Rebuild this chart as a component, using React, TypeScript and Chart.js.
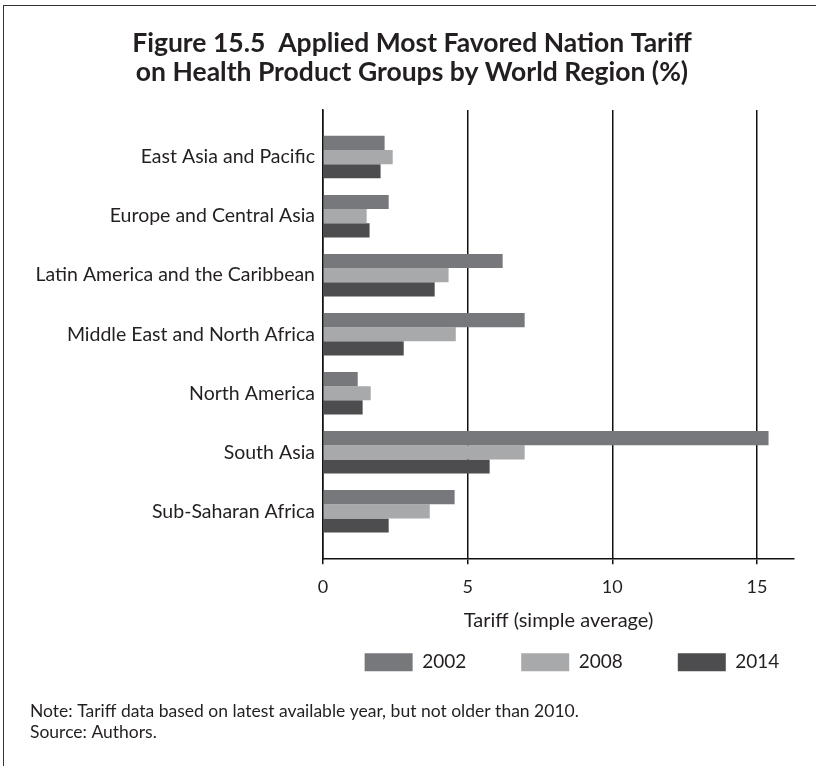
import React, { useEffect, useRef } from 'react';
import { Chart, registerables } from 'chart.js';

Chart.register(...registerables);

// ---- data ----
const regions = [
  'East Asia and Pacific',
  'Europe and Central Asia',
  'Latin America and the Caribbean',
  'Middle East and North Africa',
  'North America',
  'South Asia',
  'Sub-Saharan Africa',
];
const years = ['2002', '2008', '2014'];
const tariff2002 = [2.13, 2.27, 6.21, 6.97, 1.2, 15.4, 4.55];
const tariff2008 = [2.41, 1.51, 4.34, 4.59, 1.65, 6.97, 3.69];
const tariff2014 = [1.99, 1.61, 3.86, 2.79, 1.37, 5.76, 2.27];
const xTickValues = [0, 5, 10, 15];
const titleLines = [
  'Figure 15.5  Applied Most Favored Nation Tariff',
  'on Health Product Groups by World Region (%)',
];
const xAxisTitle = 'Tariff (simple average)';
const noteLines = [
  'Note: Tariff data based on latest available year, but not older than 2010.',
  'Source: Authors.',
];

// ---- styles ----
const seriesColors = ['#77787b', '#a8a9ab', '#4d4d4f'];
const textColor = '#231f20';
const lineColor = '#111111';
const family = 'Lato, "Open Sans", sans-serif';
const legendShiftX = 160;

export default function App() {
  const canvasRef = useRef<HTMLCanvasElement | null>(null);

  useEffect(() => {
    const canvas = canvasRef.current;
    if (!canvas) return;
    const seriesValues = [tariff2002, tariff2008, tariff2014];

    const shiftLegend = {
      id: 'shiftLegend',
      afterLayout(chart: any) {
        const lg = chart.legend;
        if (lg) {
          lg.left += legendShiftX;
          lg.right += legendShiftX;
        }
      },
    };

    const chart = new Chart(canvas, {
      type: 'bar',
      data: {
        datasets: years.map((yr, k) => ({
          label: yr,
          data: seriesValues[k].map((v, i) => ({ x: v, y: i })),
          backgroundColor: seriesColors[k],
          borderWidth: 0,
          categoryPercentage: 0.72,
          barPercentage: 1.0,
        })),
      },
      options: {
        indexAxis: 'y',
        responsive: false,
        animation: false,
        devicePixelRatio: 1,
        layout: { padding: { left: 30, right: 22, top: 0, bottom: 0 } },
        scales: {
          x: {
            type: 'linear',
            min: 0,
            max: 16.28,
            afterBuildTicks: (s: any) => {
              s.ticks = xTickValues.map((v) => ({ value: v }));
            },
            ticks: { font: { family, size: 18 }, color: textColor, padding: 12 },
            grid: { color: lineColor, lineWidth: 1.5, tickLength: 5, drawTicks: true },
            border: { display: true, color: lineColor, width: 1.5 },
            title: {
              display: true,
              text: xAxisTitle,
              font: { family, size: 20 },
              color: textColor,
              padding: { top: -1, bottom: -35 },
            },
          },
          y: {
            type: 'linear',
            reverse: true,
            offset: false,
            min: -0.8,
            max: 6.81,
            afterBuildTicks: (s: any) => {
              s.ticks = regions.map((_, i) => ({ value: i }));
            },
            afterFit: (s: any) => {
              s.width = 293;
            },
            ticks: {
              autoSkip: false,
              callback: (v: any) => regions[v] ?? '',
              font: { family, size: 19.5 },
              color: textColor,
              padding: 8,
            },
            grid: { display: false, drawTicks: false, offset: false },
            border: { display: true, color: lineColor, width: 1.5 },
          },
        },
        plugins: {
          tooltip: { enabled: false },
          title: {
            display: true,
            text: titleLines,
            color: textColor,
            font: { family, size: 26.5, weight: 'bold', lineHeight: 1.13 },
            padding: { top: 28, bottom: 22 },
          },
          subtitle: {
            display: true,
            text: noteLines,
            position: 'bottom',
            align: 'start',
            color: textColor,
            font: { family, size: 17.5, lineHeight: 1.15 },
            padding: { top: 20, bottom: 24 },
          },
          legend: {
            position: 'bottom',
            align: 'center',
            labels: {
              boxWidth: 48,
              boxHeight: 18,
              padding: 55,
              color: textColor,
              font: { family, size: 19 },
            },
          },
        },
      },
      plugins: [shiftLegend],
    } as any);

    return () => chart.destroy();
  }, []);

  return (
    <div style={{ position: 'absolute', left: 0, top: 0, width: 816, height: 766, background: '#fff' }}>
      <div
        style={{
          position: 'absolute',
          left: 3,
          top: 5,
          width: 813,
          height: 761,
          borderTop: '1.5px solid #333',
          borderLeft: '1.5px solid #333',
          boxSizing: 'border-box',
        }}
      />
      <canvas
        ref={canvasRef}
        width={816}
        height={766}
        style={{ position: 'absolute', left: 0, top: 0, display: 'block', width: 816, height: 766 }}
      />
    </div>
  );
}
